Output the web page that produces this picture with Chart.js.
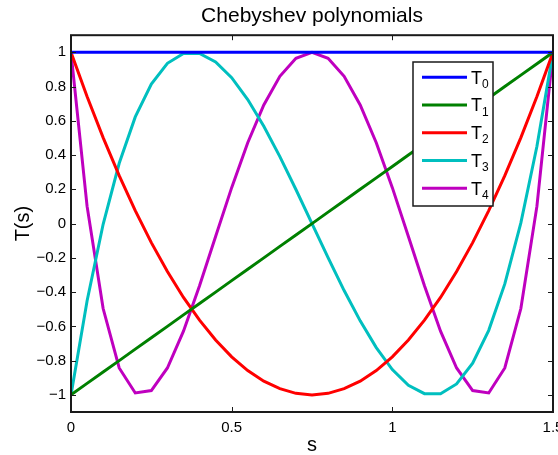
<!DOCTYPE html>
<html>
<head>
<meta charset="utf-8">
<script src="https://cdn.jsdelivr.net/npm/chart.js@4/dist/chart.umd.min.js"></script>
<style>
  html, body { margin: 0; padding: 0; background: #fff; }
  #wrap { width: 558px; height: 455px; }
</style>
</head>
<body>
<div id="wrap"><canvas id="cheb"></canvas></div>
<script>
// s sample points
const sVals = [0, 0.05, 0.1, 0.15, 0.2, 0.25, 0.3, 0.35, 0.4, 0.45, 0.5, 0.55, 0.6, 0.65, 0.7, 0.75,
  0.8, 0.85, 0.9, 0.95, 1, 1.05, 1.1, 1.15, 1.2, 1.25, 1.3, 1.35, 1.4, 1.45, 1.5];

// valores
const t0 = [1, 1, 1, 1, 1, 1, 1, 1, 1, 1, 1, 1, 1, 1, 1, 1, 1, 1, 1, 1, 1, 1, 1, 1, 1, 1, 1, 1, 1, 1, 1];
const t1 = [-1, -0.933, -0.867, -0.8, -0.733, -0.667, -0.6, -0.533, -0.467, -0.4, -0.333, -0.267, -0.2, -0.133, -0.067, 0,
  0.067, 0.133, 0.2, 0.267, 0.333, 0.4, 0.467, 0.533, 0.6, 0.667, 0.733, 0.8, 0.867, 0.933, 1];
const t2 = [1, 0.742, 0.502, 0.28, 0.076, -0.111, -0.28, -0.431, -0.564, -0.68, -0.778, -0.858, -0.92, -0.964, -0.991, -1,
  -0.991, -0.964, -0.92, -0.858, -0.778, -0.68, -0.564, -0.431, -0.28, -0.111, 0.076, 0.28, 0.502, 0.742, 1];
const t3 = [-1, -0.452, -0.004, 0.352, 0.623, 0.815, 0.936, 0.993, 0.993, 0.944, 0.852, 0.724, 0.568, 0.391, 0.199, 0,
  -0.199, -0.391, -0.568, -0.724, -0.852, -0.944, -0.993, -0.993, -0.936, -0.815, -0.623, -0.352, 0.004, 0.452, 1];
const t4 = [1, 0.102, -0.496, -0.843, -0.989, -0.975, -0.843, -0.628, -0.363, -0.075, 0.21, 0.472, 0.693, 0.86, 0.965, 1,
  0.965, 0.86, 0.693, 0.472, 0.21, -0.075, -0.363, -0.628, -0.843, -0.975, -0.989, -0.843, -0.496, 0.102, 1];

const seriesNames = ['T0', 'T1', 'T2', 'T3', 'T4'];
const seriesColors = ['#0000ff', '#008000', '#ff0000', '#00bfbf', '#bf00bf'];
const xTicks = [0, 0.5, 1, 1.5];
const yTicks = [-1, -0.8, -0.6, -0.4, -0.2, 0, 0.2, 0.4, 0.6, 0.8, 1];

const fontFam = '"Liberation Sans", Arial, sans-serif';

const datasets = [t0, t1, t2, t3, t4].map((vals, i) => ({
  label: seriesNames[i],
  data: vals.map((v, j) => ({ x: sVals[j], y: v })),
  borderColor: seriesColors[i],
  backgroundColor: seriesColors[i],
  borderWidth: 3,
  pointRadius: 0,
  fill: false,
  tension: 0
}));

// marco y ticks hacia dentro (estilo matlab)
const framePlugin = {
  id: 'frame',
  afterDatasetsDraw(chart) {
    const { ctx, chartArea: a, scales } = chart;
    ctx.save();
    ctx.strokeStyle = '#1a1a1a';
    ctx.lineWidth = 2;
    ctx.strokeRect(a.left, a.top, a.right - a.left, a.bottom - a.top);
    ctx.lineWidth = 1;
    const tl = 5;
    xTicks.forEach(v => {
      const px = Math.round(scales.x.getPixelForValue(v)) + 0.5;
      ctx.beginPath();
      ctx.moveTo(px, a.bottom); ctx.lineTo(px, a.bottom - tl);
      ctx.moveTo(px, a.top); ctx.lineTo(px, a.top + tl);
      ctx.stroke();
    });
    yTicks.forEach(v => {
      const py = Math.round(scales.y.getPixelForValue(v)) + 0.5;
      ctx.beginPath();
      ctx.moveTo(a.left, py); ctx.lineTo(a.left + tl, py);
      ctx.moveTo(a.right, py); ctx.lineTo(a.right - tl, py);
      ctx.stroke();
    });
    ctx.restore();
  }
};

// leyenda dentro del grafico
const legendPlugin = {
  id: 'boxLegend',
  afterDraw(chart) {
    const { ctx } = chart;
    const bx = 413, by = 62, bw = 80, bh = 144;
    ctx.save();
    ctx.fillStyle = '#fff';
    ctx.fillRect(bx, by, bw, bh);
    ctx.strokeStyle = '#1a1a1a';
    ctx.lineWidth = 1.5;
    ctx.strokeRect(bx, by, bw, bh);
    chart.data.datasets.forEach((ds, i) => {
      const y = by + 15.3 + i * 27.75;
      ctx.strokeStyle = ds.borderColor;
      ctx.lineWidth = 3;
      ctx.beginPath();
      ctx.moveTo(422, y); ctx.lineTo(467, y);
      ctx.stroke();
      ctx.fillStyle = '#000';
      ctx.textBaseline = 'alphabetic';
      ctx.font = '18px ' + fontFam;
      ctx.fillText(ds.label.charAt(0), 471, y + 6.2);
      const w = ctx.measureText(ds.label.charAt(0)).width;
      ctx.font = '12px ' + fontFam;
      ctx.fillText(ds.label.slice(1), 471 + w, y + 10.5);
    });
    ctx.restore();
  }
};

const fmt = v => (v < 0 ? '\u2212' + String(-v) : String(v));

new Chart(document.getElementById('cheb'), {
  type: 'line',
  data: { datasets: datasets },
  options: {
    responsive: true,
    maintainAspectRatio: false,
    animation: false,
    layout: { padding: { left: 0, right: 5, top: 0, bottom: 0 } },
    plugins: {
      legend: { display: false },
      tooltip: { enabled: false },
      title: {
        display: true,
        text: 'Chebyshev polynomials',
        fullSize: false,
        color: '#000',
        font: { family: fontFam, size: 21, weight: 'normal', lineHeight: 1.2 },
        padding: { top: 4, bottom: 6 }
      }
    },
    scales: {
      x: {
        type: 'linear',
        min: 0,
        max: 1.5,
        grid: { display: false, drawTicks: false },
        border: { display: false },
        afterBuildTicks: s => { s.ticks = xTicks.map(v => ({ value: v })); },
        afterFit: s => { s.height = 43; s.paddingLeft = 0; s.paddingRight = 0; },
        ticks: {
          padding: 7,
          maxRotation: 0,
          autoSkip: false,
          color: '#000',
          font: { family: fontFam, size: 15 },
          callback: v => fmt(v)
        },
        title: {
          display: true,
          text: 's',
          color: '#000',
          font: { family: fontFam, size: 20, lineHeight: 1 },
          padding: 0
        }
      },
      y: {
        type: 'linear',
        min: -1.1,
        max: 1.1,
        grid: { display: false, drawTicks: false },
        border: { display: false },
        afterBuildTicks: s => { s.ticks = yTicks.map(v => ({ value: v })); },
        afterFit: s => { s.width = 71; },
        ticks: {
          padding: 5,
          autoSkip: false,
          color: '#000',
          font: { family: fontFam, size: 15 },
          callback: v => fmt(v)
        },
        title: {
          display: true,
          text: 'T(s)',
          color: '#000',
          font: { family: fontFam, size: 20, lineHeight: 1.2 },
          padding: { top: 11, bottom: 0 }
        }
      }
    }
  },
  plugins: [framePlugin, legendPlugin]
});
</script>
</body>
</html>
